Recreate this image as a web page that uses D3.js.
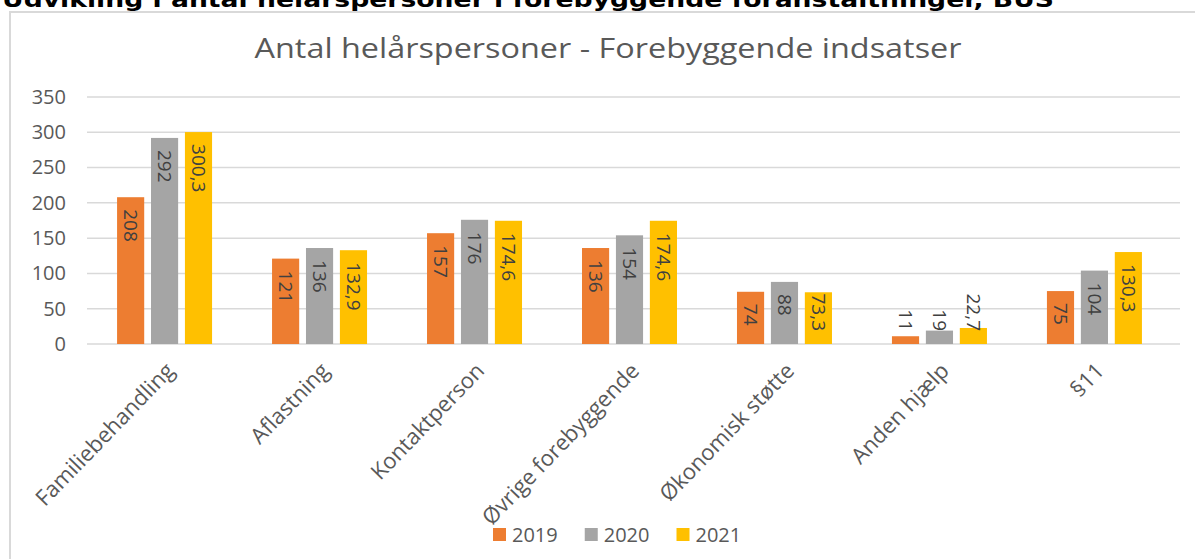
<!DOCTYPE html>
<html>
<head>
<meta charset="utf-8">
<script src="https://cdn.jsdelivr.net/npm/d3@7"></script>
<style>
  body { margin: 0; background: #fff; overflow: hidden; }
  text { font-family: 'Open Sans', sans-serif; }
</style>
</head>
<body>
<div id="chart"></div>
<script>
const categories = ['Familiebehandling', 'Aflastning', 'Kontaktperson', 'Øvrige forebyggende',
  'Økonomisk støtte', 'Anden hjælp', '§11']
const years = ['2019', '2020', '2021']
const values2019 = [208, 121, 157, 136, 74, 11, 75]
const values2020 = [292, 136, 176, 154, 88, 19, 104]
const values2021 = [300.3, 132.9, 174.6, 174.6, 73.3, 22.7, 130.3]
const yTicks = [0, 50, 100, 150, 200, 250, 300, 350]
const colors = ['#ED7D31', '#A5A5A5', '#FFC000']

const series = [values2019, values2020, values2021]
const width = 1195, height = 559

const svg = d3.select('#chart')
  .append('svg')
  .attr('width', width)
  .attr('height', height)

// heading above the chart, clipped by the top of the page (as in the reference)
svg.append('text')
  .attr('x', 2)
  .attr('y', 7)
  .attr('textLength', 1052)
  .attr('lengthAdjust', 'spacingAndGlyphs')
  .style('font-family', "'DejaVu Sans', sans-serif")
  .style('font-weight', 'bold')
  .style('font-size', '22px')
  .attr('fill', '#000')
  .text('Udvikling i antal helårspersoner i forebyggende foranstaltninger, BUS')

// chart frame
svg.append('rect')
  .attr('x', 10)
  .attr('y', 12)
  .attr('width', width + 10)
  .attr('height', height)
  .attr('fill', 'none')
  .attr('stroke', '#d9d9d9')
  .attr('stroke-width', 2)

svg.append('text')
  .attr('x', 608)
  .attr('y', 58)
  .attr('text-anchor', 'middle')
  .attr('textLength', 707)
  .attr('lengthAdjust', 'spacingAndGlyphs')
  .attr('fill', '#595959')
  .style('font-size', '27px')
  .text('Antal helårspersoner - Forebyggende indsatser')

const x0 = d3.scaleBand()
  .domain(categories)
  .range([87, 1172])
  .paddingInner(0.387)
  .paddingOuter(0.194)

const x1 = d3.scaleBand()
  .domain(years)
  .range([0, x0.bandwidth()])
  .paddingInner(0.2)

const y = d3.scaleLinear()
  .domain([0, 350])
  .range([344, 97])

// gridlines
svg.append('g')
  .selectAll('line')
  .data(yTicks)
  .enter()
  .append('line')
  .attr('x1', 87)
  .attr('x2', 1180)
  .attr('y1', d => y(d))
  .attr('y2', d => y(d))
  .attr('stroke', '#d9d9d9')
  .attr('stroke-width', 1.5)

const yAxis = svg.append('g')
  .attr('transform', 'translate(66,0)')
  .call(d3.axisLeft(y).tickValues(yTicks).tickSize(0).tickPadding(0))
yAxis.select('.domain').remove()
yAxis.selectAll('text')
  .attr('fill', '#595959')
  .style('font-family', "'Open Sans', sans-serif")
  .style('font-size', '20px')

const xAxis = svg.append('g')
  .attr('transform', 'translate(0,344)')
  .call(d3.axisBottom(x0).tickSize(0).tickPadding(0))
xAxis.select('.domain').remove()
xAxis.selectAll('text')
  .attr('text-anchor', 'end')
  .attr('fill', '#595959')
  .attr('dy', 0)
  .attr('y', 0)
  .attr('transform', 'translate(11,28) rotate(-46)')
  .style('font-family', "'Open Sans', sans-serif")
  .style('font-size', '22px')

// bars
const groups = svg.append('g')
  .selectAll('g')
  .data(categories)
  .enter()
  .append('g')
  .attr('transform', d => 'translate(' + x0(d) + ',0)')

groups.selectAll('rect')
  .data((c, i) => years.map((yr, j) => ({ year: yr, value: series[j][i], color: colors[j] })))
  .enter()
  .append('rect')
  .attr('x', d => x1(d.year))
  .attr('y', d => y(d.value))
  .attr('width', x1.bandwidth())
  .attr('height', d => y(0) - y(d.value))
  .attr('fill', d => d.color)

// value labels, rotated, at the inside end of each bar
groups.selectAll('text.val')
  .data((c, i) => years.map((yr, j) => ({ year: yr, value: series[j][i] })))
  .enter()
  .append('text')
  .attr('class', 'val')
  .attr('fill', '#404040')
  .style('font-size', '19px')
  .attr('dy', '0.35em')
  .text(d => String(d.value).replace('.', ','))
  .attr('transform', function (d) {
    const len = this.getComputedTextLength()
    let start = y(d.value) + 12
    if (start + len > 331) start = 331 - len
    return 'translate(' + (x1(d.year) + x1.bandwidth() / 2) + ',' + start + ') rotate(90)'
  })

// legend
const legend = svg.append('g')
  .attr('transform', 'translate(493,528)')
let lx = 0
years.forEach(function (yr, j) {
  const item = legend.append('g').attr('transform', 'translate(' + lx + ',0)')
  item.append('rect')
    .attr('width', 13)
    .attr('height', 13)
    .attr('fill', colors[j])
  const t = item.append('text')
    .attr('x', 19)
    .attr('y', 6.5)
    .attr('dy', '0.35em')
    .attr('fill', '#595959')
    .style('font-size', '20px')
    .text(yr)
  lx += 19 + t.node().getComputedTextLength() + 27
})
</script>
</body>
</html>
